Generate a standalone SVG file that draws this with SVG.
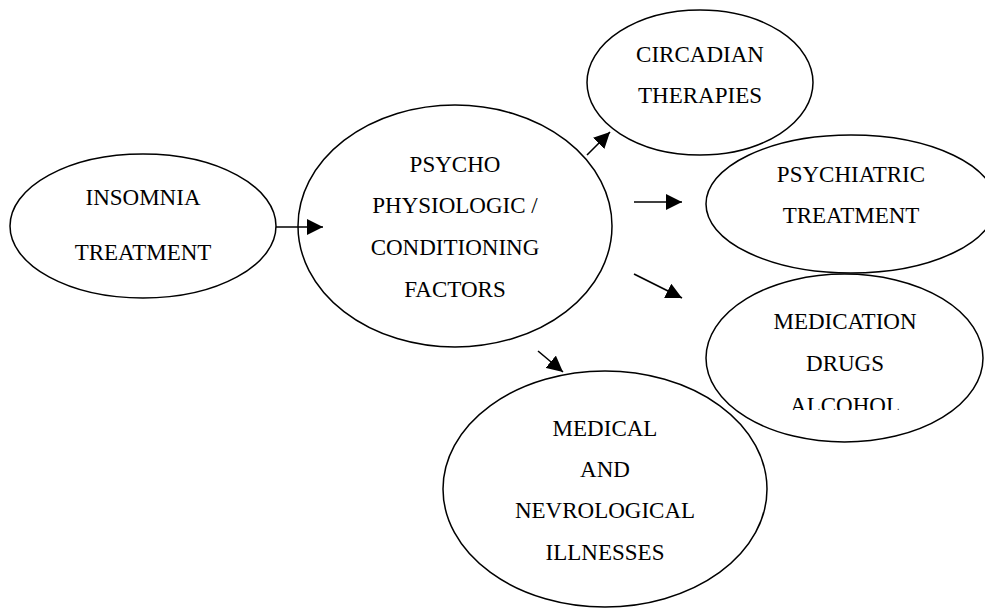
<svg xmlns="http://www.w3.org/2000/svg" width="985" height="609" viewBox="0 0 985 609">
  <style>
    .node { fill: #ffffff; stroke: #000000; stroke-width: 1.5; }
    .label { font-family: "Liberation Serif", "Times New Roman", serif; font-size: 23px; fill: #000000; text-anchor: middle; }
    .link { stroke: #000000; stroke-width: 1.6; fill: none; marker-end: url(#head); }
  </style>
  <defs>
    <marker id="head" markerUnits="userSpaceOnUse" markerWidth="16" markerHeight="16" viewBox="0 0 16 16" refX="16" refY="8" orient="auto">
      <path d="M0,0 L16,8 L0,16 z" fill="#000000"/>
    </marker>
    <clipPath id="cut-alcohol">
      <rect x="700" y="380" width="285" height="30"/>
    </clipPath>
  </defs>
  <rect width="985" height="609" fill="#ffffff"/>

  <g id="circadian">
    <ellipse class="node" cx="700" cy="82.5" rx="113" ry="72.5"/>
    <text class="label" x="700" y="62">CIRCADIAN</text>
    <text class="label" x="700" y="103">THERAPIES</text>
  </g>

  <g id="psychiatric">
    <ellipse class="node" cx="851" cy="204" rx="145" ry="69"/>
    <text class="label" x="851" y="182">PSYCHIATRIC</text>
    <text class="label" x="851" y="223">TREATMENT</text>
  </g>

  <g id="medication">
    <ellipse class="node" cx="844.5" cy="358" rx="138.5" ry="84"/>
    <text class="label" x="845" y="329">MEDICATION</text>
    <text class="label" x="845" y="371">DRUGS</text>
    <text class="label" x="845" y="413" clip-path="url(#cut-alcohol)">ALCOHOL</text>
  </g>

  <g id="insomnia">
    <ellipse class="node" cx="143" cy="226" rx="133" ry="72"/>
    <text class="label" x="143" y="205">INSOMNIA</text>
    <text class="label" x="143" y="260">TREATMENT</text>
  </g>

  <g id="psycho">
    <ellipse class="node" cx="455" cy="226" rx="157" ry="121"/>
    <text class="label" x="455" y="172">PSYCHO</text>
    <text class="label" x="455" y="213">PHYSIOLOGIC /</text>
    <text class="label" x="455" y="255">CONDITIONING</text>
    <text class="label" x="455" y="297">FACTORS</text>
  </g>

  <g id="medical">
    <ellipse class="node" cx="605" cy="489" rx="162" ry="118"/>
    <text class="label" x="605" y="436">MEDICAL</text>
    <text class="label" x="605" y="477">AND</text>
    <text class="label" x="605" y="518">NEVROLOGICAL</text>
    <text class="label" x="605" y="560">ILLNESSES</text>
  </g>

  <g id="connectors">
    <line class="link" x1="276" y1="227" x2="323" y2="227"/>
    <line class="link" x1="587" y1="155" x2="610" y2="132"/>
    <line class="link" x1="634" y1="202" x2="682" y2="202"/>
    <line class="link" x1="634" y1="274" x2="682" y2="298"/>
    <line class="link" x1="538" y1="351" x2="563" y2="372"/>
  </g>
</svg>
